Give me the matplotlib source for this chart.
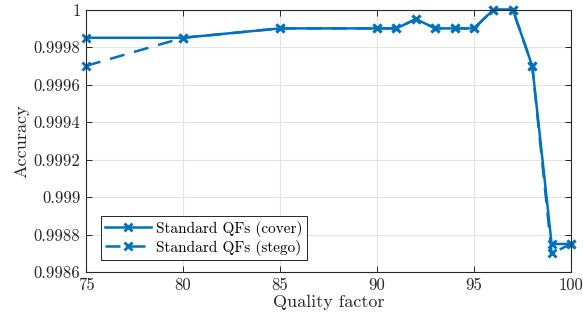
import matplotlib
matplotlib.use("Agg")
import matplotlib.pyplot as plt
from matplotlib.ticker import FuncFormatter

plt.rcParams['font.family'] = 'serif'
plt.rcParams['font.serif'] = ['cmr10', 'DejaVu Serif']
plt.rcParams['mathtext.fontset'] = 'cm'
plt.rcParams['axes.unicode_minus'] = False

# --- data ---
qf = [75, 80, 85, 90, 91, 92, 93, 94, 95, 96, 97, 98, 99, 100]
acc_cover = [0.99985, 0.99985, 0.9999, 0.9999, 0.9999, 0.99995, 0.9999,
             0.9999, 0.9999, 1.0, 1.0, 0.9997, 0.99875, 0.99875]
acc_stego = [0.9997, 0.99985, 0.9999, 0.9999, 0.9999, 0.99995, 0.9999,
             0.9999, 0.9999, 1.0, 1.0, 0.9997, 0.9987, 0.99875]
x_ticks = [75, 80, 85, 90, 95, 100]
y_ticks = [0.9986, 0.9988, 0.999, 0.9992, 0.9994, 0.9996, 0.9998, 1.0]

BLUE = '#0072BD'
AXC = '#262626'

fig = plt.figure(figsize=(5.83, 3.22), dpi=100)
ax = fig.add_axes([0.1475, 0.155, 0.832, 0.815])

ax.plot(qf, acc_cover, '-x', color=BLUE, lw=1.8, ms=6, mew=2,
        clip_on=False, label='Standard QFs (cover)')
ax.plot(qf, acc_stego, '--x', color=BLUE, lw=1.8, ms=6, mew=2,
        dashes=(6, 4), clip_on=False, label='Standard QFs (stego)')

ax.set_xlim(75, 100)
ax.set_ylim(0.9986, 1.0)
ax.set_xticks(x_ticks)
ax.set_yticks(y_ticks)
ax.yaxis.set_major_formatter(FuncFormatter(lambda v, p: '%g' % round(v, 6)))

ax.grid(True, color='#e3e3e3', lw=0.8)
ax.set_axisbelow(True)
ax.tick_params(direction='in', top=True, right=True, length=4, width=0.7,
               colors=AXC, labelsize=12, pad=4)
for s in ax.spines.values():
    s.set_color(AXC)
    s.set_linewidth(0.8)

ax.set_xlabel('Quality factor', fontsize=13, color=AXC, labelpad=1)
ax.set_ylabel('Accuracy', fontsize=13, color=AXC, labelpad=3)

leg = ax.legend(loc='lower left', bbox_to_anchor=(0.03, 0.045), fontsize=11,
                frameon=True, fancybox=False, framealpha=1, edgecolor=AXC,
                handlelength=3.0, borderpad=0.3, labelspacing=0.2,
                handletextpad=0.3, borderaxespad=0)
leg.get_frame().set_linewidth(0.7)

fig.savefig('out.png', dpi=100)
